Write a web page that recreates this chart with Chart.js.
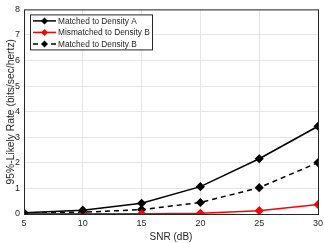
<!DOCTYPE html>
<html>
<head>
<meta charset="utf-8">
<script src="https://cdn.jsdelivr.net/npm/chart.js@4"></script>
<style>
  html, body { margin: 0; padding: 0; background: #fff; }
  #wrap { width: 324px; height: 243px; }
</style>
</head>
<body>
<div id="wrap"><canvas id="rateChart" width="324" height="243"></canvas></div>
<script>
const snr = [5, 10, 15, 20, 25, 30];
const matchedA = [0.05, 0.15, 0.42, 1.07, 2.16, 3.43];
const mismatchedB = [0.01, 0.01, 0.01, 0.03, 0.13, 0.37];
const matchedB = [0.03, 0.07, 0.17, 0.45, 1.03, 2.01];
const seriesNames = ['Matched to Density A', 'Mismatched to Density B', 'Matched to Density B'];

function toPoints(vals) {
    return snr.map((x, i) => ({ x: x, y: vals[i] }));
}

const fontFam = '"Liberation Sans", Arial, sans-serif';

// frame around the plot area plus a boxed legend inside it
const framePlugin = {
    id: 'frame',
    afterDraw(chart) {
        const ctx = chart.ctx;
        const a = chart.chartArea;
        ctx.save();
        ctx.strokeStyle = '#262626';
        ctx.lineWidth = 1;
        ctx.strokeRect(a.left + 0.5, a.top + 0.5, a.right - a.left, a.bottom - a.top);

        // legend
        const bx = a.left + 6, by = a.top + 5, bw = 122, bh = 35;
        ctx.fillStyle = '#fff';
        ctx.fillRect(bx, by, bw, bh);
        ctx.strokeStyle = '#262626';
        ctx.strokeRect(bx + 0.5, by + 0.5, bw, bh);
        ctx.font = '8.3px ' + fontFam;
        ctx.textBaseline = 'middle';
        chart.data.datasets.forEach((ds, i) => {
            const yy = by + 6.5 + i * 11.5;
            ctx.strokeStyle = ds.borderColor;
            ctx.lineWidth = 1.5;
            ctx.setLineDash(ds.borderDash || []);
            ctx.beginPath();
            ctx.moveTo(bx + 3, yy);
            ctx.lineTo(bx + 26, yy);
            ctx.stroke();
            ctx.setLineDash([]);
            ctx.fillStyle = ds.borderColor;
            ctx.beginPath();
            ctx.moveTo(bx + 14.5, yy - 3.5);
            ctx.lineTo(bx + 18, yy);
            ctx.lineTo(bx + 14.5, yy + 3.5);
            ctx.lineTo(bx + 11, yy);
            ctx.closePath();
            ctx.fill();
            ctx.fillStyle = '#262626';
            ctx.fillText(ds.label, bx + 28, yy + 0.5);
        });
        ctx.restore();
    }
};

function makeDataset(label, vals, color, dash) {
    return {
        label: label,
        data: toPoints(vals),
        borderColor: color,
        backgroundColor: color,
        borderWidth: 1.5,
        borderDash: dash,
        pointStyle: 'rectRot',
        pointRadius: 3.5,
        pointHoverRadius: 3.5,
        tension: 0
    };
}

new Chart(document.getElementById('rateChart'), {
    type: 'line',
    data: {
        datasets: [
            makeDataset(seriesNames[0], matchedA, '#000000', []),
            makeDataset(seriesNames[1], mismatchedB, '#ff0000', []),
            makeDataset(seriesNames[2], matchedB, '#000000', [5, 4])
        ]
    },
    options: {
        responsive: false,
        animation: false,
        layout: { padding: { top: 7, right: 6, left: 0, bottom: 0 } },
        plugins: { legend: { display: false }, tooltip: { enabled: false } },
        scales: {
            x: {
                type: 'linear',
                min: 5, max: 30,
                ticks: { stepSize: 5, color: '#262626', font: { size: 9, family: fontFam }, padding: 4 },
                grid: { color: '#e6e6e6', tickLength: 0 },
                border: { display: false },
                title: { display: true, text: 'SNR (dB)', color: '#262626', font: { size: 10, family: fontFam }, padding: { top: 0, bottom: 0 } },
                afterFit(s) { s.height = 29; s.paddingLeft = 0; s.paddingRight = 0; }
            },
            y: {
                min: 0, max: 8,
                ticks: { stepSize: 1, color: '#262626', font: { size: 9, family: fontFam }, padding: 4 },
                grid: { color: '#e6e6e6', tickLength: 0 },
                border: { display: false },
                title: { display: true, text: '95%-Likely Rate (bits/sec/hertz)', color: '#262626', font: { size: 10.3, family: fontFam }, padding: { top: 5, bottom: 0 } },
                afterFit(s) { s.width = 24; }
            }
        }
    },
    plugins: [framePlugin]
});
</script>
</body>
</html>
